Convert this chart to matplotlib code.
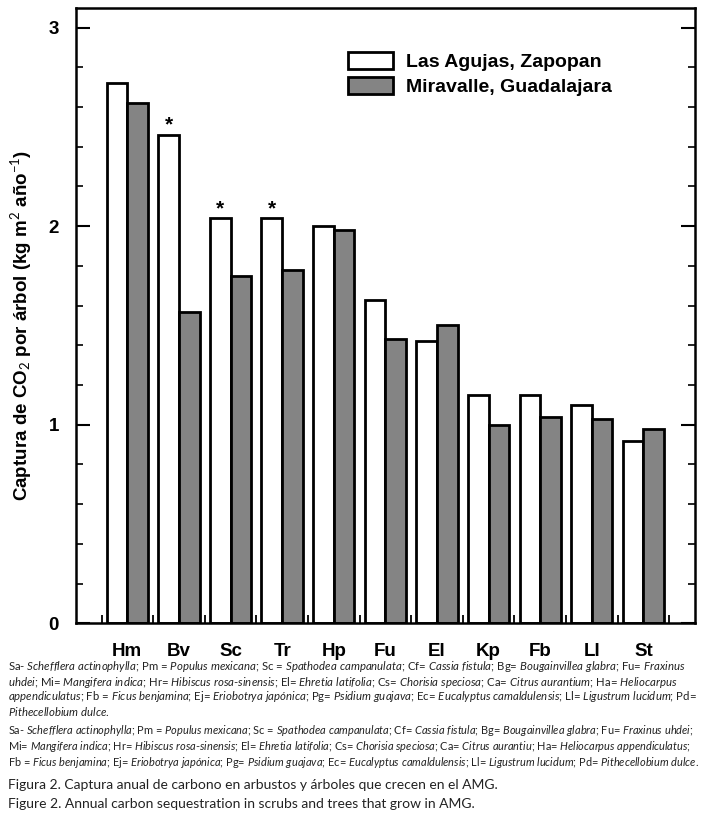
import re
import numpy as np
import matplotlib as mpl
import matplotlib.pyplot as plt
from matplotlib.ticker import MultipleLocator, FixedLocator

# annual CO2 capture per tree
species = ['Hm', 'Bv', 'Sc', 'Tr', 'Hp', 'Fu', 'El', 'Kp', 'Fb', 'Ll', 'St']
agujas = [2.72, 2.46, 2.04, 2.04, 2.00, 1.63, 1.42, 1.15, 1.15, 1.10, 0.92]
miravalle = [2.62, 1.57, 1.75, 1.78, 1.98, 1.43, 1.50, 1.00, 1.04, 1.03, 0.98]
significant = ['Bv', 'Sc', 'Tr']
series_names = ['Las Agujas, Zapopan', 'Miravalle, Guadalajara']

caption_1 = [
    "Sa- _Schefflera actinophylla_; Pm = _Populus mexicana_; Sc = _Spathodea campanulata_; Cf= _Cassia fistula_; Bg= _Bougainvillea glabra_; Fu= _Fraxinus_",
    "_uhdei_; Mi= _Mangifera indica_; Hr= _Hibiscus rosa-sinensis_; El= _Ehretia latifolia_; Cs= _Chorisia speciosa_; Ca= _Citrus aurantium_; Ha= _Heliocarpus_",
    "_appendiculatus_; Fb = _Ficus benjamina_; Ej= _Eriobotrya japónica_; Pg= _Psidium guajava_; Ec= _Eucalyptus camaldulensis_; Ll= _Ligustrum lucidum_; Pd=",
    "_Pithecellobium dulce._",
]
caption_2 = [
    "Sa- _Schefflera actinophylla_; Pm = _Populus mexicana_; Sc = _Spathodea campanulata_; Cf= _Cassia fistula_; Bg= _Bougainvillea glabra_; Fu= _Fraxinus uhdei_;",
    "Mi= _Mangifera indica_; Hr= _Hibiscus rosa-sinensis_; El= _Ehretia latifolia_; Cs= _Chorisia speciosa_; Ca= _Citrus aurantiu_; Ha= _Heliocarpus appendiculatus_;",
    "Fb = _Ficus benjamina_; Ej= _Eriobotrya japónica_; Pg= _Psidium guajava_; Ec= _Eucalyptus camaldulensis_; Ll= _Ligustrum lucidum_; Pd= _Pithecellobium dulce_.",
]
title_es = "Figura 2. Captura anual de carbono en arbustos y árboles que crecen en el AMG."
title_en = "Figure 2. Annual carbon sequestration in scrubs and trees that grow in AMG."

plt.rcParams['font.family'] = ['Liberation Sans', 'DejaVu Sans']
plt.rcParams['mathtext.fontset'] = 'custom'
plt.rcParams['mathtext.it'] = 'Lato:italic'
plt.rcParams['mathtext.rm'] = 'Lato'


def to_math(line):
    # _text_ -> italic mathtext, hyphens kept outside math
    def repl(m):
        parts = m.group(1).split('-')
        return '-'.join(r'$\mathit{' + p.replace(' ', r'\ ') + '}$' for p in parts)
    return re.sub(r'_(.+?)_', repl, line)


W, H = 709, 834
fig = plt.figure(figsize=(W / 100, H / 100), dpi=100)
ax = fig.add_axes([75.7 / W, 1 - 623.3 / H, (695 - 75.7) / W, (623.3 - 7.7) / H])

x = np.arange(len(species))
bw = 0.4
ax.bar(x - bw / 2, agujas, bw, color='white', edgecolor='black', linewidth=2.0,
       label=series_names[0])
ax.bar(x + bw / 2, miravalle, bw, color='#848484', edgecolor='black', linewidth=2.0,
       label=series_names[1])

for s in significant:
    i = species.index(s)
    ax.annotate('*', (x[i] - bw / 2, agujas[i]), xytext=(0, 3), textcoords='offset points',
                ha='center', va='baseline', fontsize=15, fontweight='bold')

ax.set_xlim(-1, 11)
ax.set_ylim(0, 3.1)
ax.xaxis.set_major_locator(FixedLocator(x))
ax.set_xticklabels(species, fontsize=13.5, fontweight='bold')
ax.xaxis.set_minor_locator(FixedLocator(np.arange(-0.5, 11, 1)))
ax.tick_params(axis='x', which='major', length=0, pad=14)
ax.tick_params(axis='x', which='minor', direction='in', length=6, width=1.3, top=False)

ax.yaxis.set_major_locator(MultipleLocator(1))
ax.yaxis.set_minor_locator(MultipleLocator(0.2))
ax.yaxis.set_major_formatter(mpl.ticker.FormatStrFormatter('%d'))
ax.tick_params(axis='y', which='major', direction='in', length=10, width=1.5,
               right=True, labelsize=13.5, pad=12)
ax.tick_params(axis='y', which='minor', direction='in', length=5, width=1.2, right=True)
for lab in ax.get_yticklabels():
    lab.set_fontweight('bold')

for sp in ax.spines.values():
    sp.set_linewidth(1.8)

fig.text(21 / W, 1 - 325 / H, 'Captura de CO$_2$ por árbol (kg m$^2$ año$^{-1}$)',
         rotation=90, ha='center', va='center', fontsize=13.5, fontweight='bold')

leg = ax.legend(loc='upper left', bbox_to_anchor=(348 / W, 1 - 52 / H),
                bbox_transform=fig.transFigure, frameon=False, borderpad=0,
                borderaxespad=0, handlelength=2.3, handleheight=0.95,
                handletextpad=0.7, labelspacing=0.3,
                prop={'size': 14, 'weight': 'bold'})

cap_font = ['Lato', 'DejaVu Sans']
ys1 = [667, 682, 697, 712]
ys2 = [731, 747, 763]
for line, yy in zip(caption_1, ys1):
    fig.text(8 / W, 1 - yy / H, to_math(line), ha='left', va='center',
             fontsize=8.2, family=cap_font, color='#222222')
for line, yy in zip(caption_2, ys2):
    fig.text(8 / W, 1 - yy / H, to_math(line), ha='left', va='center',
             fontsize=7.9, family=cap_font, color='#222222')
fig.text(8 / W, 1 - 785 / H, title_es, ha='left', va='center', fontsize=10,
         family=cap_font, color='#222222')
fig.text(8 / W, 1 - 804 / H, title_en, ha='left', va='center', fontsize=10,
         family=cap_font, color='#222222')

fig.savefig('out.png', dpi=100)
